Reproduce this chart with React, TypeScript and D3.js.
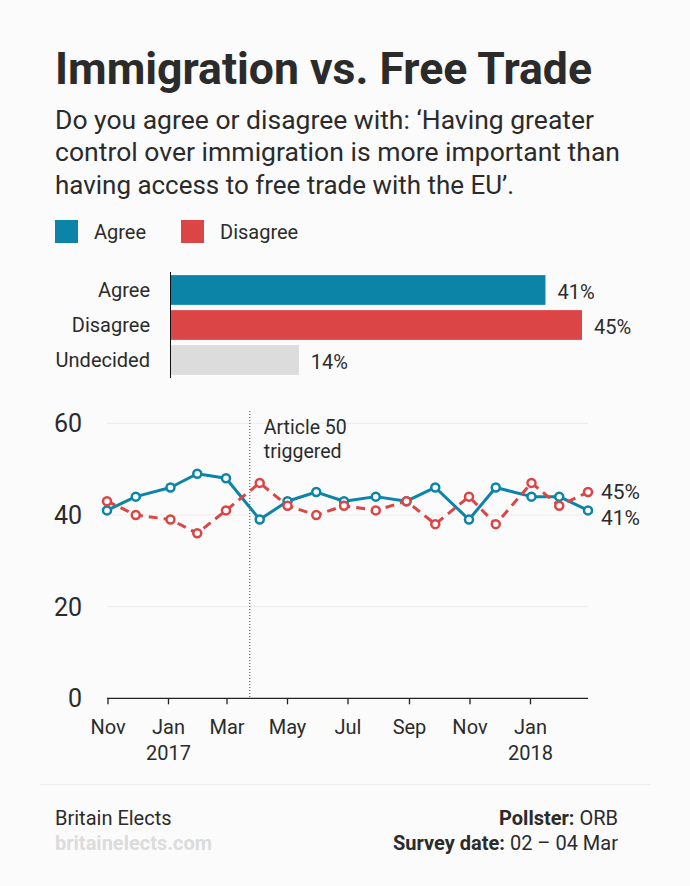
import React from "react";
import * as d3 from "d3";

const barCategories = ["Agree", "Disagree", "Undecided"];
const barValues = [41, 45, 14];
const barColors = ["#0b84a8", "#dc4545", "#dcdcdc"];

const pollDates = [
  "2016-10-31", "2016-11-29", "2017-01-03", "2017-01-30", "2017-02-28",
  "2017-04-03", "2017-05-01", "2017-05-30", "2017-06-27", "2017-07-29",
  "2017-08-29", "2017-09-27", "2017-10-31", "2017-11-27", "2018-01-02",
  "2018-01-30", "2018-02-28",
];
const agreeValues = [41, 44, 46, 49, 48, 39, 43, 45, 43, 44, 43, 46, 39, 46, 44, 44, 41];
const disagreeValues = [43, 40, 39, 36, 41, 47, 42, 40, 42, 41, 43, 38, 44, 38, 47, 42, 45];
const yTicks = [0, 20, 40, 60];
const annotationDate = "2017-03-24";
const annotationLines = ["Article 50", "triggered"];

const titleText = "Immigration vs. Free Trade";
const subtitleLines = [
  "Do you agree or disagree with: \u2018Having greater",
  "control over immigration is more important than",
  "having access to free trade with the EU\u2019.",
];

const W = 690;
const H = 886;
const BG = "#fbfbfb";
const TEXT = "#2b2b2b";
const FONT = "Roboto, 'Noto Sans', sans-serif";

export default function App() {
  const parse = d3.timeParse("%Y-%m-%d");
  const dates = pollDates.map((d) => parse(d) as Date);

  // Bar chart scales
  const yBand = d3.scaleBand<string>().domain(barCategories).range([272.5, 377.5]).paddingInner(0.15).paddingOuter(0.075);
  const xBar = d3.scaleLinear().domain([0, d3.max(barValues) as number]).range([171, 582]);

  // Line chart scales
  const x = d3.scaleTime().domain(d3.extent(dates) as [Date, Date]).range([107, 588]);
  const y = d3.scaleLinear().domain([0, 60]).range([698.3, 423.3]);
  const monthTicks = x.ticks(d3.timeMonth.every(2) as any);

  const series = [
    { name: "Agree", values: agreeValues, color: "#0b84a8", dash: null as string | null },
    { name: "Disagree", values: disagreeValues, color: "#dc4545", dash: "9,6" },
  ];
  const line = (vals: number[]) =>
    d3.line<number>().x((_, i) => x(dates[i])).y((v) => y(v))(vals) as string;

  // end labels with simple collision avoidance
  const ends = series
    .map((s) => ({ label: s.values[s.values.length - 1] + "%", yv: y(s.values[s.values.length - 1]) }))
    .sort((a, b) => a.yv - b.yv);
  for (let i = 1; i < ends.length; i++) {
    if (ends[i].yv - ends[i - 1].yv < 26) ends[i].yv = ends[i - 1].yv + 26;
  }
  const lastX = x(dates[dates.length - 1]);
  const annX = x(parse(annotationDate) as Date);

  return (
    <div style={{ position: "fixed", left: 0, top: 0, width: W, height: H, background: BG }}>
      <svg width={W} height={H} style={{ display: "block", fontFamily: FONT }}>
        <rect width={W} height={H} fill={BG} />
        {/* Title */}
        <text x={55} y={83.5} fontSize={45} fontWeight={700} fill={TEXT} textLength={537} lengthAdjust="spacingAndGlyphs">
          {titleText}
        </text>
        {subtitleLines.map((t, i) => (
          <text key={i} x={55} y={128.5 + i * 32.5} fontSize={25.5} fill={TEXT}
            textLength={[539, 565, 459][i]} lengthAdjust="spacingAndGlyphs">
            {t}
          </text>
        ))}

        {/* Legend */}
        {series.map((s, i) => (
          <g key={s.name} transform={`translate(${[55, 181][i]},220)`}>
            <rect width={23} height={23} fill={s.color} />
            <text x={39} y={19} fontSize={20} fill={TEXT}>{s.name}</text>
          </g>
        ))}

        {/* Bar chart */}
        {barCategories.map((c, i) => (
          <g key={c}>
            <rect x={xBar(0)} y={yBand(c)} width={xBar(barValues[i]) - xBar(0)} height={yBand.bandwidth()} fill={barColors[i]} />
            <text x={150} y={(yBand(c) as number) + yBand.bandwidth() / 2} dy="0.35em" textAnchor="end" fontSize={20} fill={TEXT}>
              {c}
            </text>
            <text x={xBar(barValues[i]) + 12} y={(yBand(c) as number) + yBand.bandwidth() / 2 + 2} dy="0.35em" fontSize={20} fill={TEXT}>
              {barValues[i]}%
            </text>
          </g>
        ))}
        <line x1={170.5} x2={170.5} y1={272} y2={378} stroke="#111" strokeWidth={1} />

        {/* Line chart grid */}
        {yTicks.map((t) => (
          <g key={t}>
            {t > 0 && <line x1={x.range()[0]} x2={x.range()[1]} y1={y(t)} y2={y(t)} stroke="#ececec" strokeWidth={1} />}
            <text x={82} y={y(t)} dy="0.36em" textAnchor="end" fontSize={25} fill={TEXT}>{t}</text>
          </g>
        ))}
        {/* x axis */}
        <line x1={x.range()[0]} x2={x.range()[1]} y1={y(0)} y2={y(0)} stroke="#222" strokeWidth={1.3} />
        {monthTicks.map((d, i) => (
          <g key={i} transform={`translate(${x(d)},0)`}>
            <line y1={y(0)} y2={y(0) + 6} stroke="#222" strokeWidth={1.3} />
            <text y={734} textAnchor="middle" fontSize={20} fill={TEXT}>{d3.timeFormat("%b")(d)}</text>
            {d.getMonth() === 0 && (
              <text y={760} textAnchor="middle" fontSize={20} fill={TEXT}>{d3.timeFormat("%Y")(d)}</text>
            )}
          </g>
        ))}

        {/* annotation */}
        <line x1={annX} x2={annX} y1={411} y2={y(0)} stroke="#444" strokeWidth={1} strokeDasharray="1,2" />
        {annotationLines.map((t, i) => (
          <text key={i} x={annX + 14} y={434 + i * 23.5} fontSize={19.5} fill={TEXT}>{t}</text>
        ))}

        {/* lines */}
        {series.map((s) => (
          <g key={s.name}>
            <path d={line(s.values)} fill="none" stroke={s.color} strokeWidth={3} strokeDasharray={s.dash ?? undefined} strokeLinejoin="round" />
            {s.values.map((v, i) => (
              <circle key={i} cx={x(dates[i])} cy={y(v)} r={4} fill={BG} stroke={s.color} strokeWidth={2.5} />
            ))}
          </g>
        ))}
        {ends.map((e) => (
          <text key={e.label} x={lastX + 13} y={e.yv} dy="0.35em" fontSize={21} fill={TEXT}>{e.label}</text>
        ))}

        {/* footer */}
        <line x1={40} x2={650} y1={784.5} y2={784.5} stroke="#ededed" strokeWidth={1} />
        <text x={55} y={825} fontSize={20} fill={TEXT}>Britain Elects</text>
        <text x={55} y={850} fontSize={20} fontWeight={700} fill="#dcdcdc">britainelects.com</text>
        <text x={618} y={825} fontSize={20} textAnchor="end" fill={TEXT}>
          <tspan fontWeight={700}>Pollster:</tspan> ORB
        </text>
        <text x={618} y={850} fontSize={20} textAnchor="end" fill={TEXT}>
          <tspan fontWeight={700}>Survey date:</tspan> 02 {"\u2013"} 04 Mar
        </text>
      </svg>
    </div>
  );
}
